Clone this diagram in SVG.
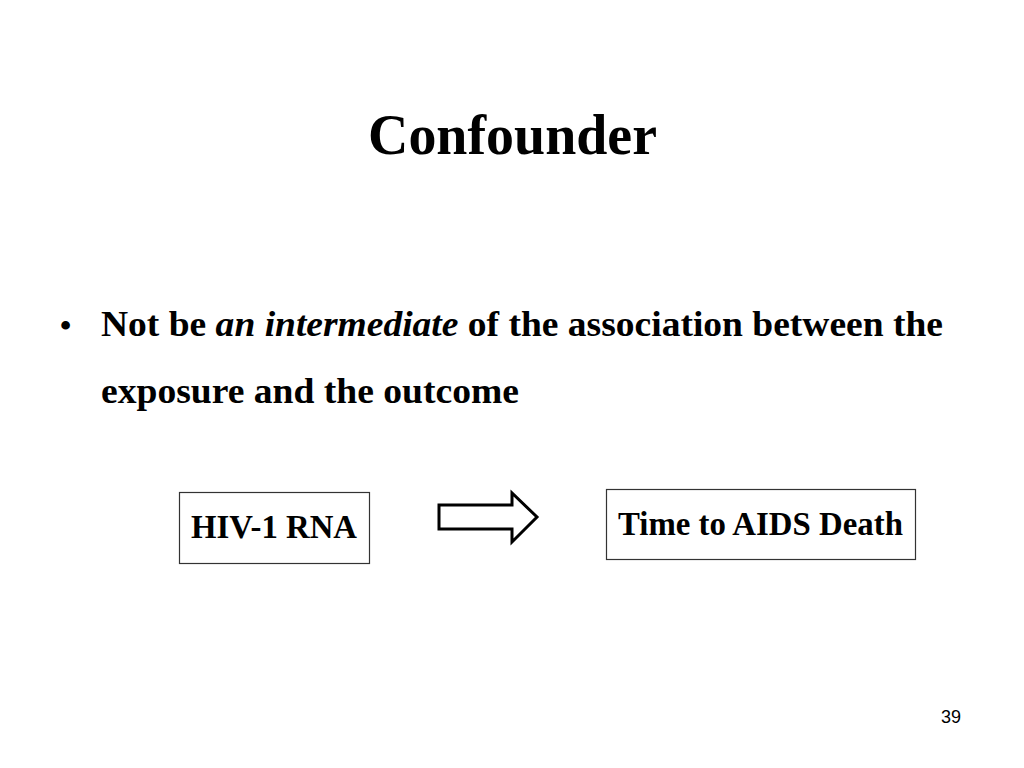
<svg xmlns="http://www.w3.org/2000/svg" width="1024" height="768" viewBox="0 0 1024 768">
<style>
.t{font-family:"Liberation Serif","Times New Roman",serif;font-weight:bold;fill:#000}
.box{fill:#fff;stroke:#333;stroke-width:1.2}
</style>
<rect width="1024" height="768" fill="#fff"/>
<text class="t" x="368" y="154" font-size="58" textLength="289" lengthAdjust="spacingAndGlyphs">Confounder</text>
<text class="t" x="60" y="336" font-size="32">•</text>
<text class="t" x="101" y="336" font-size="36" textLength="842" lengthAdjust="spacingAndGlyphs">Not be <tspan font-style="italic">an intermediate</tspan> of the association between the</text>
<text class="t" x="101" y="403" font-size="36" textLength="418" lengthAdjust="spacingAndGlyphs">exposure and the outcome</text>
<g id="node-hiv">
<rect class="box" x="179.5" y="492.5" width="190" height="71"/>
<text class="t" x="191" y="538" font-size="34" textLength="166" lengthAdjust="spacingAndGlyphs">HIV-1 RNA</text>
</g>
<g id="node-time">
<rect class="box" x="606.5" y="489.5" width="309" height="70"/>
<text class="t" x="618" y="535" font-size="34" textLength="285" lengthAdjust="spacingAndGlyphs">Time to AIDS Death</text>
</g>
<g id="connectors">
<polygon points="439,505 512,505 512,493 537,517 512,542 512,529 439,529" fill="#fff" stroke="#000" stroke-width="3"/>
</g>
<text x="951" y="723" font-family="Liberation Sans,Arial,sans-serif" font-size="18" text-anchor="middle" fill="#000">39</text>
</svg>
